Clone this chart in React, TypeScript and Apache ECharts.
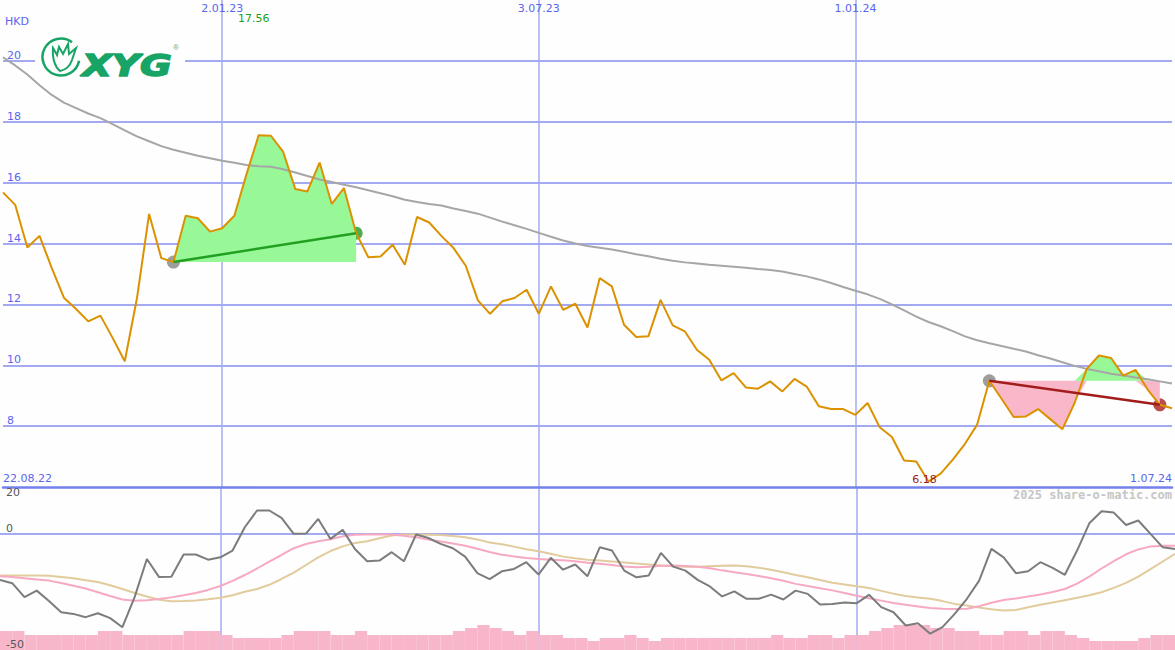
import React, { useEffect, useRef } from "react";
import * as echarts from "echarts";

// ---------- categories (weekly) ----------
const firstWeekUTC = Date.UTC(2022, 7, 29);
const weekCount = 97;
const categories: string[] = Array.from({ length: weekCount }, (_, i) => {
  const d = new Date(firstWeekUTC + i * 7 * 86400000);
  return `${d.getUTCDate()}.${String(d.getUTCMonth() + 1).padStart(2, "0")}.${String(d.getUTCFullYear()).slice(2)}`;
});
const topTickIndices = [18, 44, 70];
const bottomTickLabels = ["22.08.22", "1.07.24"];
const priceTickLabels = [8, 10, 12, 14, 16, 18, 20];
const oscTickLabelsBelow = [0, -50];
const oscTickLabelsAbove = [20];

// ---------- data ----------
const price = [
  15.68, 15.27, 13.87, 14.25, 13.2, 12.22, 11.85, 11.44, 11.63, 10.9,
  10.13, 12.2, 14.97, 13.52, 13.39, 14.91, 14.83, 14.39, 14.5, 14.91,
  16.28, 17.56, 17.54, 17.02, 15.79, 15.71, 16.66, 15.3, 15.82, 14.34,
  13.55, 13.57, 13.96, 13.3, 14.87, 14.69, 14.25, 13.85, 13.27, 12.13,
  11.69, 12.1, 12.21, 12.48, 11.69, 12.59, 11.82, 12.02, 11.24, 12.86,
  12.59, 11.33, 10.93, 10.95, 12.15, 11.31, 11.11, 10.5, 10.18, 9.5,
  9.74, 9.27, 9.23, 9.47, 9.14, 9.55, 9.3, 8.65, 8.56, 8.56,
  8.37, 8.76, 7.96, 7.64, 6.87, 6.84, 6.18, 6.44, 6.9, 7.42,
  8.05, 9.49, 8.9, 8.3, 8.32, 8.56, 8.23, 7.9, 8.76, 9.88,
  10.32, 10.24, 9.66, 9.85, 9.2, 8.7, 8.59,
];
const priceMA = [
  20.12, 19.85, 19.55, 19.2, 18.88, 18.63, 18.45, 18.27, 18.12, 17.92,
  17.72, 17.52, 17.36, 17.2, 17.08, 16.98, 16.88, 16.8, 16.72, 16.65,
  16.58, 16.54, 16.52, 16.44, 16.33, 16.22, 16.1, 16.02, 15.93, 15.85,
  15.75, 15.65, 15.55, 15.44, 15.36, 15.3, 15.25, 15.15, 15.07, 14.98,
  14.85, 14.72, 14.6, 14.48, 14.35, 14.22, 14.1, 14.0, 13.92, 13.86,
  13.8, 13.73, 13.65, 13.58, 13.5, 13.43, 13.38, 13.34, 13.3, 13.27,
  13.24, 13.2, 13.16, 13.13, 13.08, 13.0, 12.92, 12.82, 12.7, 12.57,
  12.45, 12.33, 12.18, 12.0, 11.8, 11.6, 11.42, 11.28, 11.12, 10.95,
  10.82, 10.72, 10.63, 10.54, 10.45, 10.33, 10.22, 10.1, 9.98, 9.88,
  9.8, 9.72, 9.66, 9.6, 9.54, 9.47, 9.4,
];
const oscLine = [
  -19.9, -21.3, -27.3, -24.5, -29.0, -33.8, -34.5, -35.9, -34.2, -36.3,
  -40.2, -27.3, -10.9, -18.7, -18.5, -9.0, -9.0, -11.2, -10.2, -7.3,
  2.7, 9.9, 9.9, 6.7, -0.1, 0.0, 6.3, -2.3, 1.6, -6.6,
  -11.9, -11.6, -8.0, -11.9, -0.4, -1.9, -4.4, -6.3, -9.9, -17.0,
  -19.6, -16.2, -15.2, -12.3, -17.6, -10.4, -15.5, -13.3, -18.3, -5.9,
  -7.3, -15.9, -18.8, -18.0, -8.3, -14.2, -15.9, -19.9, -22.7, -27.0,
  -24.8, -28.0, -28.0, -26.2, -28.3, -24.5, -25.9, -30.5, -30.2, -29.6,
  -29.9, -26.3, -31.6, -33.8, -39.5, -38.5, -43.0, -40.2, -34.5, -28.0,
  -20.2, -6.6, -10.2, -17.0, -16.2, -12.3, -14.7, -17.7, -7.3, 4.4,
  9.6, 9.0, 3.7, 5.6, -0.1, -5.9, -6.6,
];
const oscPink = [
  -18.3, -18.7, -19.2, -19.7, -20.2, -21.2, -22.4, -23.6, -25.2, -26.8,
  -28.3, -28.8, -28.6, -28.1, -27.4, -26.5, -25.5, -24.2, -22.5, -20.3,
  -17.8, -15.0, -12.0, -9.2, -6.3, -4.5, -3.3, -2.4, -1.2, -0.5,
  -0.4, -0.4, -0.4, -0.9, -1.6, -2.6, -3.4, -4.3, -5.2, -6.5,
  -7.9, -9.1, -9.8, -10.5, -10.9, -11.2, -11.5, -11.9, -12.5, -13.0,
  -13.5, -14.1, -14.5, -14.3, -13.8, -13.7, -13.9, -14.2, -14.9, -15.8,
  -16.6, -17.4, -18.2, -19.2, -20.3, -21.6, -22.5, -23.5, -24.4, -25.5,
  -26.7, -27.8, -28.8, -29.8, -30.6, -31.3, -32.0, -32.3, -32.4, -32.3,
  -31.2, -29.7, -28.5, -27.9, -27.0, -26.2, -25.1, -23.8, -21.5, -18.5,
  -15.0, -11.8, -8.9, -6.8, -5.5, -5.2, -5.2,
];
const oscTan = [
  -18.0, -18.0, -18.0, -18.0, -18.1, -18.6, -19.2, -20.0, -20.8, -22.2,
  -23.8, -25.5, -27.0, -28.4, -29.1, -29.0, -28.7, -28.2, -27.6, -26.5,
  -25.0, -23.8, -22.0, -19.5, -16.8, -13.5, -10.2, -7.5, -5.5, -4.0,
  -3.3, -2.0, -0.8, -0.4, -0.4, -0.5, -0.6, -1.0, -1.6, -2.5,
  -3.8, -4.6, -5.6, -6.7, -7.6, -8.7, -9.9, -10.6, -11.2, -11.6,
  -12.0, -12.4, -12.9, -13.3, -13.7, -14.0, -14.2, -14.2, -14.0, -13.8,
  -13.7, -14.0, -14.7, -15.5, -16.6, -17.8, -18.8, -19.9, -21.1, -21.9,
  -22.6, -23.4, -24.6, -25.8, -26.8, -27.5, -28.0, -29.0, -30.2, -30.9,
  -31.8, -32.5, -33.0, -32.8, -31.6, -30.6, -29.6, -28.6, -27.6, -26.5,
  -25.2, -23.3, -21.2, -18.5, -15.3, -12.0, -8.7,
];
const volume = [
  19, 19, 15, 15, 15, 15, 15, 15, 19, 19,
  15, 15, 15, 15, 15, 19, 19, 19, 15, 12,
  12, 12, 12, 15, 19, 19, 19, 15, 15, 19,
  15, 15, 15, 15, 15, 15, 15, 19, 22, 25,
  22, 19, 15, 19, 15, 15, 12, 12, 9, 12,
  12, 15, 12, 9, 12, 12, 12, 12, 12, 12,
  12, 12, 12, 15, 12, 12, 15, 15, 12, 15,
  15, 19, 22, 25, 25, 25, 22, 22, 19, 19,
  15, 15, 19, 19, 15, 19, 19, 15, 12, 9,
  9, 9, 9, 12, 15, 15,
];
const trendStarts = [14, 81];
const trendEnds = [29, 95];
const highLabel = "17.56";
const lowLabel = "6.18";

// ---------- colours ----------
const BG = "#fdfefd";
const GRID_BLUE = "#a3aaf2";
const AXIS_BLUE = "#7480ec";
const LABEL_BLUE = "#5a66ee";
const T = "rgba(0,0,0,0)";
const LOGO_GREEN = "#17a466";
const FONT = '"DejaVu Sans", sans-serif';

echarts.graphic.registerShape(
  "xygflame",
  echarts.graphic.extendPath(
    "M -8 -9 L -4 -2 L -2 -10 L 2 -3 L 7 -13 L 8 -3 L 15 -9 L 11 3 C 9 9 4 13 -1 14 C -5 11 -9 3 -8 -9 Z",
    {}
  )
);

function buildOption() {
  const s0 = trendStarts[0], e0 = trendEnds[0];
  const s1 = trendStarts[1], e1 = trendEnds[1];
  const base0 = price[s0];
  const base1 = price[s1];
  const g0Base = price.map((_, i) => (i >= s0 && i <= e0 ? base0 : "-"));
  const g0Delta = price.map((p, i) => (i >= s0 && i <= e0 ? Math.max(p - base0, 0) : "-"));
  const p1Low = price.map((p, i) => (i >= s1 && i <= e1 ? Math.min(p, base1) : "-"));
  const p1Delta = price.map((p, i) => (i >= s1 && i <= e1 ? base1 - Math.min(p, base1) : "-"));
  const g1Base = price.map((_, i) => (i >= s1 && i <= e1 ? base1 : "-"));
  const g1Delta = price.map((p, i) => (i >= s1 && i <= e1 ? Math.max(p - base1, 0) : "-"));
  const trend0 = price.map((p, i) => (i === s0 || i === e0 ? p : "-"));
  const trend1 = price.map((p, i) => (i === s1 || i === e1 ? p : "-"));

  const hiIdx = price.indexOf(Math.max(...price));
  const loIdx = price.indexOf(Math.min(...price));

  const hiddenLine = { width: 0, opacity: 0 };

  const oscLabelAxis = (values: number[], vAlign: string) => ({
    gridIndex: 1,
    type: "value",
    min: -50,
    max: 20,
    interval: 10,
    position: "left",
    z: 20,
    axisLine: { show: false },
    axisTick: { show: false },
    axisLabel: {
      inside: true,
      margin: 6,
      verticalAlign: vAlign,
      showMinLabel: true,
      showMaxLabel: true,
      color: "#585858",
      fontSize: 11,
      fontFamily: FONT,
      formatter: (v: number) => (values.includes(v) ? String(v) : ""),
    },
    splitLine: { show: false },
  });

  return {
    animation: false,
    backgroundColor: BG,
    textStyle: { fontFamily: FONT },
    grid: [
      { left: 0, right: 0, top: 0, height: 487, containLabel: false },
      { left: 0, right: 0, top: 487, height: 163, containLabel: false },
    ],
    xAxis: [
      {
        gridIndex: 0,
        type: "category",
        data: categories,
        boundaryGap: false,
        position: "top",
        axisLine: { show: false },
        axisTick: { show: false },
        axisLabel: {
          inside: true,
          margin: 3,
          color: LABEL_BLUE,
          fontSize: 11,
          fontFamily: FONT,
          interval: (idx: number) => topTickIndices.includes(idx),
        },
        splitLine: {
          show: true,
          interval: (idx: number) => topTickIndices.includes(idx),
          lineStyle: { color: GRID_BLUE, width: 1.5 },
        },
      },
      {
        gridIndex: 0,
        type: "category",
        data: categories,
        boundaryGap: false,
        position: "bottom",
        axisLine: { show: true, lineStyle: { color: AXIS_BLUE, width: 2.5 } },
        axisTick: { show: false },
        axisLabel: {
          inside: true,
          margin: 3,
          color: LABEL_BLUE,
          fontSize: 11,
          fontFamily: FONT,
          showMinLabel: true,
          showMaxLabel: true,
          alignMinLabel: "left",
          alignMaxLabel: "right",
          interval: (idx: number) => idx === 0 || idx === weekCount - 1,
          formatter: (_v: string, idx: number) => (idx === 0 ? bottomTickLabels[0] : bottomTickLabels[1]),
        },
        splitLine: { show: false },
      },
      {
        gridIndex: 1,
        type: "category",
        data: categories,
        boundaryGap: false,
        position: "bottom",
        axisLine: { show: false },
        axisTick: { show: false },
        axisLabel: { show: false },
        splitLine: {
          show: true,
          interval: (idx: number) => topTickIndices.includes(idx),
          lineStyle: { color: GRID_BLUE, width: 1.5 },
        },
      },
      {
        gridIndex: 1,
        type: "category",
        data: categories.slice(0, weekCount - 1),
        boundaryGap: true,
        position: "bottom",
        show: false,
      },
    ],
    yAxis: [
      {
        gridIndex: 0,
        type: "value",
        min: 6,
        max: 22,
        interval: 2,
        position: "left",
        axisLine: { show: false },
        axisTick: { show: false },
        axisLabel: {
          inside: true,
          margin: 4,
          verticalAlign: "bottom",
          color: LABEL_BLUE,
          fontSize: 11,
          fontFamily: FONT,
          formatter: (v: number) => (priceTickLabels.includes(v) ? String(v) : ""),
        },
        splitLine: {
          show: true,
          lineStyle: { color: [T, GRID_BLUE, GRID_BLUE, GRID_BLUE, GRID_BLUE, GRID_BLUE, GRID_BLUE, GRID_BLUE, T], width: 2 },
        },
      },
      {
        gridIndex: 1,
        type: "value",
        min: -50,
        max: 20,
        interval: 10,
        position: "left",
        axisLine: { show: false },
        axisTick: { show: false },
        axisLabel: { show: false },
        splitLine: {
          show: true,
          lineStyle: { color: [T, T, T, T, T, GRID_BLUE, T, T], width: 2 },
        },
      },
      oscLabelAxis(oscTickLabelsAbove, "top"),
      {
        gridIndex: 1,
        type: "value",
        min: 0,
        max: 163,
        position: "right",
        show: false,
      },
      oscLabelAxis(oscTickLabelsBelow, "bottom"),
    ],
    graphic: [
      { type: "rect", left: 35, top: 35, shape: { width: 150, height: 44 }, style: { fill: BG }, z: 50 },
      {
        type: "arc",
        shape: { cx: 61, cy: 57, r: 18.5, startAngle: 0.2, endAngle: 5.35, clockwise: true },
        style: { stroke: LOGO_GREEN, lineWidth: 2.5, fill: null },
        z: 51,
      },
      { type: "xygflame", x: 61, y: 57, style: { stroke: LOGO_GREEN, lineWidth: 2, fill: null }, z: 51 },
      {
        type: "text",
        x: 82,
        y: 49,
        scaleX: 1.25,
        style: {
          text: "XYG",
          font: 'italic bold 31px "DejaVu Sans", sans-serif',
          fill: LOGO_GREEN,
          stroke: LOGO_GREEN,
          lineWidth: 1.5,
          align: "left",
          verticalAlign: "top",
        },
        z: 51,
      },
      {
        type: "text",
        x: 173,
        y: 43,
        style: { text: "®", font: "8px sans-serif", fill: "#6aa88a", align: "left", verticalAlign: "top" },
        z: 51,
      },
      {
        type: "text",
        x: 5,
        y: 16,
        style: { text: "HKD", font: `11px ${FONT}`, fill: LABEL_BLUE, align: "left", verticalAlign: "top" },
        z: 51,
      },
      {
        type: "text",
        right: 3,
        top: 489,
        style: { text: "2025 share-o-matic.com", font: 'bold 12px "DejaVu Sans Mono", monospace', fill: "#c6c6c6" },
        z: 51,
      },
    ],
    series: [
      {
        type: "bar",
        xAxisIndex: 3,
        yAxisIndex: 3,
        data: volume,
        barCategoryGap: "0%",
        itemStyle: { color: "#f8b6ca" },
        silent: true,
      },
      {
        type: "line",
        xAxisIndex: 2,
        yAxisIndex: 1,
        data: oscTan,
        symbol: "none",
        lineStyle: { color: "#e2cb9c", width: 2 },
      },
      {
        type: "line",
        xAxisIndex: 2,
        yAxisIndex: 1,
        data: oscPink,
        symbol: "none",
        lineStyle: { color: "#f7a9c2", width: 2 },
      },
      {
        type: "line",
        xAxisIndex: 2,
        yAxisIndex: 1,
        data: oscLine,
        symbol: "none",
        lineStyle: { color: "#7c7c7c", width: 2 },
      },
      // fills
      { type: "line", xAxisIndex: 0, yAxisIndex: 0, stack: "g0", data: g0Base, symbol: "none", lineStyle: hiddenLine },
      {
        type: "line", xAxisIndex: 0, yAxisIndex: 0, stack: "g0", data: g0Delta, symbol: "none",
        lineStyle: hiddenLine, areaStyle: { color: "#98f898", opacity: 1 },
      },
      { type: "line", xAxisIndex: 0, yAxisIndex: 0, stack: "p1", data: p1Low, symbol: "none", lineStyle: hiddenLine },
      {
        type: "line", xAxisIndex: 0, yAxisIndex: 0, stack: "p1", data: p1Delta, symbol: "none",
        lineStyle: hiddenLine, areaStyle: { color: "#f8b8ca", opacity: 1 },
      },
      { type: "line", xAxisIndex: 0, yAxisIndex: 0, stack: "g1", data: g1Base, symbol: "none", lineStyle: hiddenLine },
      {
        type: "line", xAxisIndex: 0, yAxisIndex: 0, stack: "g1", data: g1Delta, symbol: "none",
        lineStyle: hiddenLine, areaStyle: { color: "#98f898", opacity: 1 },
      },
      {
        type: "line",
        xAxisIndex: 0,
        yAxisIndex: 0,
        data: priceMA,
        symbol: "none",
        lineStyle: { color: "#a6a6a6", width: 2 },
      },
      {
        type: "line",
        xAxisIndex: 0,
        yAxisIndex: 0,
        data: price,
        symbol: "none",
        lineStyle: { color: "#dc9200", width: 2 },
        markPoint: {
          symbol: "circle",
          symbolSize: 0,
          silent: true,
          data: [
            {
              coord: [hiIdx, 22],
              label: {
                show: true, position: "bottom", distance: 13, offset: [-5, 0],
                formatter: highLabel, color: "#22a022", fontSize: 11, fontFamily: FONT,
              },
            },
            {
              coord: [loIdx, 6],
              label: {
                show: true, position: "top", distance: 2, offset: [-4, 0],
                formatter: lowLabel, color: "#a01818", fontSize: 11, fontFamily: FONT,
              },
            },
          ],
        },
      },
      {
        type: "line",
        xAxisIndex: 0,
        yAxisIndex: 0,
        data: trend0,
        connectNulls: true,
        symbol: "none",
        lineStyle: { color: "#22a022", width: 2.5 },
      },
      {
        type: "line",
        xAxisIndex: 0,
        yAxisIndex: 0,
        data: trend1,
        connectNulls: true,
        symbol: "none",
        lineStyle: { color: "#a21c1c", width: 2.5 },
      },
      {
        type: "scatter",
        xAxisIndex: 0,
        yAxisIndex: 0,
        symbolSize: 13,
        data: [
          { value: [s0, price[s0]], itemStyle: { color: "#858585" } },
          { value: [e0, price[e0]], itemStyle: { color: "#1f9a24" } },
          { value: [s1, price[s1]], itemStyle: { color: "#858585" } },
          { value: [e1, price[e1]], itemStyle: { color: "#a82020" } },
        ],
      },
    ],
  };
}

export default function App() {
  const ref = useRef<HTMLDivElement>(null);
  useEffect(() => {
    if (!ref.current) return;
    const chart = echarts.init(ref.current, undefined, { renderer: "svg" });
    chart.setOption(buildOption() as any);
    return () => chart.dispose();
  }, []);
  return (
    <div
      ref={ref}
      style={{ position: "fixed", left: 0, top: 0, width: 1175, height: 650, background: BG }}
    />
  );
}
